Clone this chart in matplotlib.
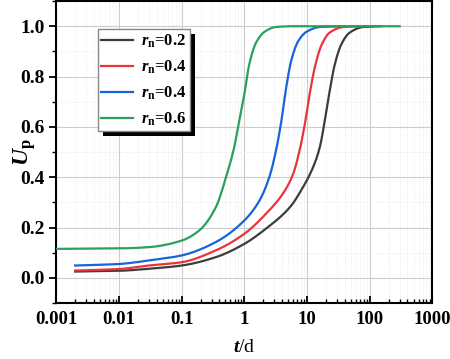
import numpy as np
import matplotlib
matplotlib.use('Agg')
import matplotlib.pyplot as plt
from matplotlib.patches import Rectangle
from matplotlib.ticker import LogLocator, MultipleLocator, NullFormatter

plt.rcParams['font.family'] = 'Liberation Serif'
plt.rcParams['font.weight'] = 'bold'
plt.rcParams['mathtext.fontset'] = 'custom'
plt.rcParams['mathtext.rm'] = 'Liberation Serif:bold'
plt.rcParams['mathtext.it'] = 'Liberation Serif:italic:bold'
plt.rcParams['mathtext.bf'] = 'Liberation Serif:bold'

# values
t_black = [0.002, 0.01, 0.03, 0.1, 0.35, 1, 2.2, 5.3, 8.6, 12.5, 16, 19.2, 23, 27.8, 35.5, 48, 79, 150]
u_black = [0.025, 0.028, 0.036, 0.049, 0.082, 0.135, 0.195, 0.28, 0.36, 0.44, 0.52, 0.625, 0.744, 0.85, 0.93, 0.975, 0.997, 1.0]

t_red = [0.002, 0.01, 0.03, 0.1, 0.35, 1, 2.2, 4.1, 6, 7.6, 9.2, 11, 13.3, 17, 23, 38, 80]
u_red = [0.029, 0.035, 0.049, 0.062, 0.109, 0.175, 0.254, 0.334, 0.413, 0.506, 0.61, 0.73, 0.837, 0.925, 0.975, 0.997, 1.0]

t_blue = [0.002, 0.01, 0.03, 0.1, 0.35, 1, 1.74, 2.5, 3.2, 3.9, 4.66, 5.6, 7.2, 9.8, 16, 40]
u_blue = [0.049, 0.055, 0.069, 0.089, 0.142, 0.228, 0.307, 0.40, 0.506, 0.625, 0.758, 0.864, 0.94, 0.978, 0.997, 1.0]

t_green = [0.001, 0.01, 0.03, 0.1, 0.19, 0.35, 0.51, 0.69, 0.83, 1, 1.2, 1.54, 2.1, 3.2, 6, 300]
u_green = [0.115, 0.117, 0.122, 0.148, 0.188, 0.28, 0.40, 0.52, 0.625, 0.73, 0.85, 0.935, 0.978, 0.997, 1.0, 1.0]

labels = [r'$r_{\rm n}$=0.2', r'$r_{\rm n}$=0.4', r'$r_{\rm n}$=0.4', r'$r_{\rm n}$=0.6']
colors = ['#3c3c3c', '#e8343c', '#1664dc', '#2aa05a']
xtick_vals = [0.001, 0.01, 0.1, 1, 10, 100, 1000]
xtick_labels = ['0.001', '0.01', '0.1', '1', '10', '100', '1000']


def pchip(x, y, xs):
    # monotone cubic (Fritsch-Carlson), so the read points join without kinks
    x = np.asarray(x, float)
    y = np.asarray(y, float)
    h = np.diff(x)
    d = np.diff(y) / h
    m = np.zeros_like(y)
    for i in range(1, len(x) - 1):
        if d[i - 1] * d[i] > 0:
            w1 = 2 * h[i] + h[i - 1]
            w2 = h[i] + 2 * h[i - 1]
            m[i] = (w1 + w2) / (w1 / d[i - 1] + w2 / d[i])
    m[0] = d[0]
    m[-1] = d[-1]
    idx = np.clip(np.searchsorted(x, xs) - 1, 0, len(x) - 2)
    hh = h[idx]
    s = (xs - x[idx]) / hh
    h00 = 2 * s**3 - 3 * s**2 + 1
    h10 = s**3 - 2 * s**2 + s
    h01 = -2 * s**3 + 3 * s**2
    h11 = s**3 - s**2
    return h00 * y[idx] + h10 * hh * m[idx] + h01 * y[idx + 1] + h11 * hh * m[idx + 1]


def curve(t, u, n=500):
    lt = np.log10(t)
    xs = np.linspace(lt[0], lt[-1], n)
    return 10 ** xs, pchip(lt, u, xs)


fig = plt.figure(figsize=(4.5, 3.59), dpi=100)
ax = fig.add_axes([0.125, 0.156, 0.836, 0.841])

series = [(t_black, u_black), (t_red, u_red), (t_blue, u_blue), (t_green, u_green)]
for (t, u), c, lab in zip(series, colors, labels):
    xs, ys = curve(t, u)
    ax.plot(xs, ys, color=c, lw=1.6, label=lab, zorder=3)

ax.set_xscale('log')
ax.set_xlim(0.001, 1000)
ax.set_ylim(-0.1, 1.1)
ax.set_xticks(xtick_vals)
ax.set_xticklabels(xtick_labels)
ax.xaxis.set_minor_locator(LogLocator(base=10, subs=np.arange(2, 10), numticks=20))
ax.xaxis.set_minor_formatter(NullFormatter())
ax.yaxis.set_major_locator(MultipleLocator(0.2))
ax.yaxis.set_minor_locator(MultipleLocator(0.1))
ax.yaxis.set_major_formatter(plt.FormatStrFormatter('%.1f'))

ax.tick_params(axis='x', which='major', direction='in', length=5, width=1.3, labelsize=13.5, pad=6)
ax.tick_params(axis='x', which='minor', direction='in', length=3, width=1.0)
ax.tick_params(axis='y', which='major', direction='out', length=5, width=1.3, labelsize=14)
ax.tick_params(axis='y', which='minor', direction='out', length=3, width=1.0)
for lab in ax.get_xticklabels() + ax.get_yticklabels():
    lab.set_fontweight('bold')

ax.grid(True, which='major', color='#cccccc', lw=0.8, zorder=0)
ax.grid(True, which='minor', color='#e6e6e6', lw=0.6, ls=':', zorder=0)
for s in ax.spines.values():
    s.set_linewidth(1.5)

ax.set_xlabel(r'$t$/d', fontsize=14, labelpad=8)
ax.set_ylabel(r'$U_{\rm p}$', fontsize=17)
ax.yaxis.set_label_coords(-0.048, 0.5)

leg = ax.legend(loc='upper left', bbox_to_anchor=(0.11, 0.907), borderaxespad=0,
                fontsize=12, frameon=True, fancybox=False, edgecolor='#888888',
                framealpha=1, handlelength=1.9, labelspacing=0.52, borderpad=0.2,
                handletextpad=0.5)
leg.get_frame().set_linewidth(1.0)

# thick black drop shadow like the original
fig.canvas.draw()
bb = leg.get_frame().get_window_extent()
ax.add_patch(Rectangle((bb.x0 + 5, bb.y0 - 5), bb.width, bb.height, transform=None,
                       facecolor='black', edgecolor='none', zorder=4.9, clip_on=False))

fig.savefig('out.png', dpi=100)
